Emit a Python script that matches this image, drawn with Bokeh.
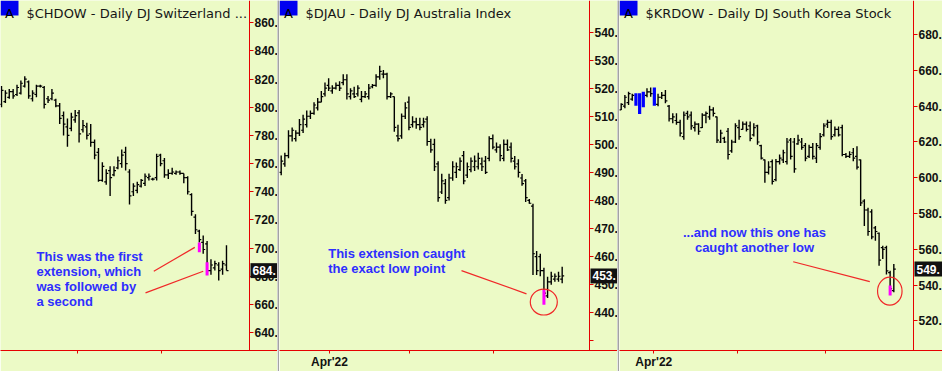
import numpy as np
from bokeh.plotting import figure
from bokeh.layouts import row
from bokeh.models import LinearAxis, FixedTicker, PrintfTickFormatter, Range1d, ColumnDataSource
from bokeh.core.properties import value
from bokeh.embed import file_html
from bokeh.resources import INLINE

# ------------------------------------------------------------------ data
ch_title = "$CHDOW - Daily  DJ Switzerland ..."
ch_open = [802,804,807,811,809,810,815,818,806,809, 815,814,806,806,805,801,794,786,785,791,
           796,784,786,781,775,768,748,747,755,752, 757,760,768,754,740,741,744,746,750,749,
           750,766,762,752,753,753,754,753,750,738, 722,712,704,703,684,686,688,685,688]
ch_high = [815,812,813,813,816,819,822,819,812,816, 816,815,808,813,806,803,797,792,796,798,
           798,791,789,788,777,771,761,756,758,758, 765,770,772,756,746,747,749,753,753,750,
           767,767,764,756,757,755,755,753,751,739, 724,713,709,705,692,691,690,691,702]
ch_low = [800,803,806,806,808,809,814,806,804,807, 814,799,803,805,800,788,780,772,783,789,
          775,782,777,772,763,747,747,745,737,751, 756,757,755,731,737,739,743,744,748,748,
          748,758,750,749,752,752,752,746,738,723, 710,704,696,681,681,684,677,681,684]
ch_close = [812,810,811,808,814,817,820,808,810,815, 815,802,805,810,801,792,788,780,793,794,
            781,787,780,775,766,748,758,753,750,755, 762,766,760,737,744,745,748,751,751,749,
            765,760,752,753,754,754,753,750,740,726, 713,706,699,684,688,689,684,689,684]
ch_ext_idx = [51, 53]
ch_ext_lo = [697, 680.5]
ch_ext_hi = [704, 690]
ch_yticks = [640, 660, 680, 700, 720, 740, 760, 780, 800, 820, 840, 860]
ch_xticks = [19.59, 41.25]
ch_xlabels = ["", ""]
ch_note = ["This was the first", "extension, which", "was followed by", "a second"]

au_title = "$DJAU - Daily  DJ Australia Index"
au_open = [490,493,496,503,502,504,505,507,510,511, 513,515,518,521,519,520,521,522,523,517,
           518,518,516,517,517,520.5,521,524,525,525, 517,517,503,503,510,515,507,508,507,507,
           509,501,500,493,483,486,481,488,490,491, 496,489,491,492,492,493,494,495,502,498,
           499,495,500,499,494,493,488,487,480,478, 460,460,455,446,451,452,452,452]
au_high = [496,497,505,506,505,509,510.5,512,512,515, 516.5,519,522,523.5,521,522,522.5,525,525,520,
           520.5,521,519,519,521.5,521.5,525,528,526.5,525.5, 518.5,517,507,511,515,517,510,509.5,509.5,509.5,
           510,502,502,494,489.5,487.6,489.5,494,493.5,495.3, 497.6,493.5,495.3,496,497,495.3,495.8,502.9,503.5,500.6,
           500,501.7,501.7,500.6,495.8,494.7,489.4,487.6,480.5,478.8, 462,461,456,452.8,454.6,454,454.6,456.4]
au_low = [489,492,495,501,501,503,504,506,509,510.5, 512,515,517,519,518,519.5,519,521,516,516,
          516.5,517,515,516.5,516,520,520.5,523,523.5,516, 516.5,504.5,501,502,509,505,506,505.5,505,506,
          499.5,497,490.5,479.5,482.3,478.8,480,487,488,490.5, 485.8,488,490,490.5,491,490.5,489.4,494,498.2,497,
          494,494,497.6,493.5,491,488.2,485.2,479.4,478.8,453.4, 453.4,453,445,445.2,450,451,451,450.5]
au_close = [494,496,503,505,504,507,509,510,511,514, 515,517,520,520,520,521,520,523,518,519,
            517,520,517,518,520,521,524,526,525,517, 518,506,502,510,513,506,508,507,506,508,
            501,498,492,481,487,480,488,492,492,494, 487,492,494,494,495,492,490,502,499,499,
            496,500,498,495,492,490,486,481,479,461, 455,455,447,451,453,453,453,453.1]
au_ext_idx = [72]
au_ext_lo = [442.8]
au_ext_hi = [448.1]
au_yticks = [430, 440, 450, 460, 470, 480, 490, 500, 510, 520, 530, 540]
au_xticks = [13.24, 35.16, 58.18]
au_xlabels = ["Apr'22", "", ""]
au_note = ["This extension caught", "the exact low point"]

kr_title = "$KRDOW - Daily  DJ South Korea Stock"
kr_open = [638,640,642,644,646,641,645,646,648,650, 641,645,646,640,633,632,631,623,636,635,
           628,630,628,635,634,638,634,620,622,626, 615,620,628,627,630,629,624,629,618,610,
           603,609,599,609,610,609,621,620,619,620, 618,612,617,611,617,624,630,631,624,627,
           628,613,612,614,612,610,587,582,581,572, 569,561,561,547,537]
kr_high = [641.6,646.3,648.1,647,647.2,647.2,648.1,650,650.5,650.5, 647,648,649,640.7,636,636,632.4,637,637.5,637,
           631.5,630.5,636,637,640.2,639.4,634.2,626.8,623,627.8, 621.3,630.5,632.4,631.5,631.5,631.5,630.5,629.6,618.5,610.2,
           609.3,610.2,610.5,613,615.7,622.2,622.2,622.2,624,622.2, 619.4,618.5,619.4,619.4,625,630.5,632.4,632.4,628.7,628.7,
           629.6,613.9,614.8,616.7,617.6,610.2,588,583.3,582.4,573.1, 569.4,562,562,548,551.8]
kr_low = [637.9,638.9,640.7,643,640.2,635.7,639.4,645,645.3,640.2, 640,644,641.6,631.5,630.5,629.6,623.1,621.3,632.4,626.8,
          625.9,624,627.8,630.5,632.4,634.2,619.4,619.4,619.4,610.2, 614,619.4,621.3,626.8,625.9,620.4,623.1,618.5,610.2,597.2,
          601.8,596.3,598.1,607.4,608.3,607.4,610.2,602.8,618.5,615.7, 609.3,611.1,610.2,608.3,615.7,623.1,627.8,621.3,623.1,623.1,
          612,611.1,611.1,609.3,604.6,584.3,573.1,567.6,565.7,564.8, 550.9,554.6,546,535.1,536]
kr_close = [641,645,647,646,641,645,640,648,647,641, 645,646,643,633,634,631,625,635,634,629,
            630,626,635,636,638,636,621,625,620,613, 620,629,623,630,627,622,628,620,611,603,
            606,598,609,611,614,620,612,605,621,617, 611,617,612,618,623,629,631,623,627,624,
            613,612,613,611,606,586,582,570,567,570, 554,560,548,538,549]
kr_blue_idx = [4, 5, 6, 9]
kr_ext_idx = [73]
kr_ext_lo = [534.3]
kr_ext_hi = [539.8]
kr_yticks = [520, 540, 560, 580, 600, 620, 640, 660, 680]
kr_xticks = [8.85, 31.65, 55.46]
kr_xlabels = ["Apr'22", "", ""]
kr_note = ["...and now this one has", "caught another low"]

# ------------------------------------------------------------------ style
BG = "#ECFAC6"
RED = "#E60000"
PTR = "#F02828"
NOTE = "#2E2EFF"
MAG = "#FF00FF"
SEP = "#A3A3A3"
FRAME_H = 352
H = 371


def make_panel(title, o, hi, lo, c, width, first_px, step_px, axis_px, yr,
               yticks, ylabel_over, xticks, xlabels, ext_idx, ext_lo, ext_hi, blue_idx=()):
    xr = (-first_px / step_px, (width - first_px) / step_px)
    sx = (xr[1] - xr[0]) / width
    sy = (yr[1] - yr[0]) / FRAME_H

    def X(px):
        return xr[0] + px * sx

    def Y(py):
        return yr[1] - py * sy

    p = figure(width=width, height=H, x_range=Range1d(*xr), y_range=Range1d(*yr),
               y_axis_location=None, toolbar_location=None, output_backend="svg",
               min_border_left=0, min_border_right=0, min_border_top=0, min_border_bottom=H - FRAME_H,
               background_fill_color=BG, border_fill_color=BG, outline_line_color=None)
    p.grid.visible = False

    # x axis
    xa = p.xaxis[0]
    xa.ticker = FixedTicker(ticks=xticks)
    xa.major_label_overrides = {t: s for t, s in zip(xticks, xlabels)}
    xa.axis_line_color = RED
    xa.major_tick_line_color = RED
    xa.major_tick_in = 0
    xa.major_tick_out = 3
    xa.minor_tick_line_color = None
    xa.major_label_standoff = 1
    xa.major_label_text_font = "Liberation Sans"
    xa.major_label_text_font_style = "bold"
    xa.major_label_text_font_size = "12px"
    xa.major_label_text_color = "#111111"

    # y axis at fixed location inside the panel
    ya = LinearAxis(fixed_location=X(axis_px), ticker=FixedTicker(ticks=yticks),
                    formatter=PrintfTickFormatter(format="%.0f."),
                    axis_line_color=RED, major_tick_line_color=RED, major_tick_in=0, major_tick_out=4,
                    minor_tick_line_color=None, major_label_standoff=1,
                    major_label_text_font="Liberation Sans", major_label_text_font_style="bold",
                    major_label_text_font_size="12px", major_label_text_color="#111111")
    if ylabel_over:
        ya.major_label_overrides = ylabel_over
    p.add_layout(ya, "right")

    # OHLC bars
    n = len(o)
    idx = np.arange(n)
    black = np.array([i for i in idx if i not in blue_idx])
    tl = 2.0 * sx
    src = ColumnDataSource(dict(x=idx[black].astype(float), o=np.array(o)[black], h=np.array(hi)[black],
                                l=np.array(lo)[black], c=np.array(c)[black]))
    src.data["xl"] = src.data["x"] - tl
    src.data["xr"] = src.data["x"] + tl
    p.segment(x0="x", y0="l", x1="x", y1="h", source=src, line_color="black", line_width=1.4)
    p.segment(x0="xl", y0="o", x1="x", y1="o", source=src, line_color="black", line_width=1.2)
    p.segment(x0="x", y0="c", x1="xr", y1="c", source=src, line_color="black", line_width=1.2)
    if len(blue_idx):
        bi = np.array(blue_idx)
        p.segment(x0=bi, y0=np.array(lo)[bi], x1=bi, y1=np.array(hi)[bi],
                  line_color="#0000FF", line_width=3.2)
    p.segment(x0=ext_idx, y0=ext_lo, x1=ext_idx, y1=ext_hi, line_color=MAG, line_width=3)

    # title block
    p.quad(left=[X(0)], right=[X(18)], top=[Y(0)], bottom=[Y(15)], fill_color="#0000F0", line_color=None)
    p.text(x=[X(9)], y=[Y(13.5)], text=["A"], text_font=value("DejaVu Sans"), text_font_size="13px",
           text_color="#000000", text_align="center", text_baseline="alphabetic")
    p.text(x=[X(26)], y=[Y(13.5)], text=[title], text_font=value("DejaVu Sans"), text_font_size="13px",
           text_color="#161616", text_align="left", text_baseline="alphabetic")

    # last price tag
    last = c[-1]
    py = (yr[1] - last) / sy
    p.quad(left=[X(axis_px + 1)], right=[X(width + 4)], top=[Y(py - 7.5)], bottom=[Y(py + 7.5)],
           fill_color="#111111", line_color=None, level="overlay")
    p.text(x=[X(axis_px + 3)], y=[last], text=["%.0f." % last], text_font=value("Liberation Sans"),
           text_font_size="12px", text_font_style="bold", text_color="white",
           text_baseline="middle", level="overlay")
    return p, X, Y, sx, sy


def note(p, X, Y, lines, px, base_pys, align="left"):
    p.text(x=[X(px)] * len(lines), y=[Y(b) for b in base_pys], text=lines,
           text_font=value("Liberation Sans"), text_font_size="13px", text_font_style="bold",
           text_color=NOTE, text_align=align, text_baseline="alphabetic")


def pointer(p, X, Y, x0, y0, x1, y1):
    p.segment(x0=[X(x0)], y0=[Y(y0)], x1=[X(x1)], y1=[Y(y1)], line_color=PTR, line_width=1.2)


def ring(p, X, Y, sx, sy, cx, cy, w, h):
    p.ellipse(x=[X(cx)], y=[Y(cy)], width=[w * sx], height=[h * sy],
              fill_color=None, line_color=PTR, line_width=1.2)


# ---------------- panel 1
p1, X1, Y1, sx1, sy1 = make_panel(ch_title, ch_open, ch_high, ch_low, ch_close, 277, 1.0, 3.879, 249,
                                  (627.3, 875.74), ch_yticks, None, ch_xticks, ch_xlabels,
                                  ch_ext_idx, ch_ext_lo, ch_ext_hi)
note(p1, X1, Y1, ch_note, 36, [257.7, 272.7, 287.7, 302.7])
pointer(p1, X1, Y1, 153.3, 272.3, 194.3, 248.3)
pointer(p1, X1, Y1, 145, 294, 202.7, 272.3)

# ---------------- panel 2
p2, X2, Y2, sx2, sy2 = make_panel(au_title, au_open, au_high, au_low, au_close, 338, 1.7, 3.649, 310,
                                  (426.54, 551.23), au_yticks, {430: ""}, au_xticks, au_xlabels,
                                  au_ext_idx, au_ext_lo, au_ext_hi)
note(p2, X2, Y2, au_note, 48.7, [254.3, 269.3])
pointer(p2, X2, Y2, 182, 271.7, 247, 295)
ring(p2, X2, Y2, sx2, sy2, 264.3, 303.3, 27, 26)

# ---------------- panel 3
p3, X3, Y3, sx3, sy3 = make_panel(kr_title, kr_open, kr_high, kr_low, kr_close, 323, 1.7, 3.684, 294,
                                  (503.5, 699.06), kr_yticks, None, kr_xticks, kr_xlabels,
                                  kr_ext_idx, kr_ext_lo, kr_ext_hi, blue_idx=kr_blue_idx)
note(p3, X3, Y3, kr_note, 135, [233.3, 248], align="center")
pointer(p3, X3, Y3, 173.7, 262.7, 250.3, 282.7)
ring(p3, X3, Y3, sx3, sy3, 270.3, 292.3, 24.5, 28)


def separator():
    s = figure(width=2, height=H, toolbar_location=None, output_backend="svg",
               x_axis_location=None, y_axis_location=None, min_border=0,
               background_fill_color=SEP, border_fill_color=SEP, outline_line_color=None)
    s.grid.visible = False
    return s


layout = row(p1, separator(), p2, separator(), p3, spacing=0)
open("out.html", "w").write(file_html(layout, INLINE))
